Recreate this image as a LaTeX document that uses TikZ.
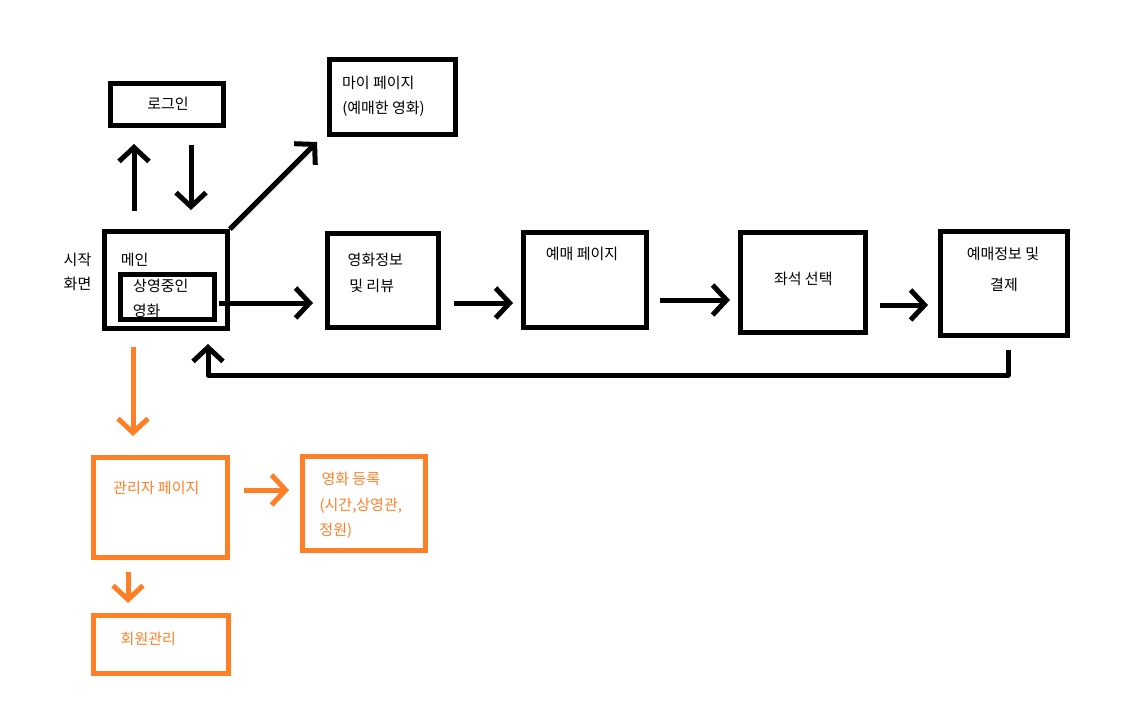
\documentclass[tikz,border=0pt]{standalone}
\usepackage{fontspec}
\setmainfont{Noto Sans CJK KR}
\usetikzlibrary{arrows.meta}
\definecolor{paintorange}{RGB}{255,127,39}
\tikzset{
  box/.style={draw, line width=5pt, inner sep=0pt, minimum width=#1},
  box/.default=100pt,
  obox/.style={box=#1, draw=paintorange},
  lbl/.style={inner sep=0pt, font=\fontsize{15}{18}\selectfont},
  olbl/.style={lbl, text=paintorange},
  arr/.style={line width=5pt, -{Straight Barb[length=14pt,width=30pt,line join=miter]}},
  oarr/.style={arr, draw=paintorange},
}
\begin{document}
\begin{tikzpicture}[x=1pt,y=-1pt]
\useasboundingbox (0,0) rectangle (1126,715);

% boxes
\node[box=113pt, minimum height=42pt] (login) at (167,104.5) {};
\node[box=123pt, minimum height=97pt] (main) at (166,280) {};
\node[box=94pt, minimum height=45pt] (inner) at (167.5,297) {};
\node[box=126pt, minimum height=75pt] (mypage) at (392.5,97) {};
\node[box=111pt, minimum height=94pt] (info) at (383,280.5) {};
\node[box=123pt, minimum height=95pt] (reserve) at (585,280) {};
\node[box=125pt, minimum height=100pt] (seat) at (803,282.5) {};
\node[box=127pt, minimum height=104pt] (pay) at (1004,283.5) {};
\node[obox=134pt, minimum height=100pt] (admin) at (160.5,507.5) {};
\node[obox=123pt, minimum height=94pt] (register) at (364,503.5) {};
\node[obox=135pt, minimum height=58pt] (member) at (161,644.5) {};

% labels
\node[lbl] (t1) at (77.5,259.5) {시작};
\node[lbl] (t2) at (77.5,284) {화면};
\node[lbl] (t3) at (134.7,260) {메인};
\node[lbl] (t4) at (160.8,285.5) {상영중인};
\node[lbl] (t5) at (146.7,310.5) {영화};
\node[lbl] (t6) at (168,104) {로그인};
\node[lbl] (t7) at (378.3,82.5) {마이 페이지};
\node[lbl] (t8) at (383.5,109) {(예매한 영화)};
\node[lbl] (t9) at (375.3,259.5) {영화정보};
\node[lbl] (t10) at (371.7,285.5) {및 리뷰};
\node[lbl] (t11) at (582,253.7) {예매 페이지};
\node[lbl] (t12) at (803.3,279) {좌석 선택};
\node[lbl] (t13) at (1003,254) {예매정보 및};
\node[lbl] (t14) at (1004,284.7) {결제};
\node[olbl] (t15) at (156.3,487.5) {관리자 페이지};
\node[olbl] (t16) at (350.8,478.8) {영화 등록};
\node[olbl] (t17) at (360.8,506) {(시간,상영관,};
\node[olbl] (t18) at (335.8,531) {정원)};
\node[olbl] (t19) at (148.3,639.2) {회원관리};

% connectors
\coordinate (mpend) at (317,142);
\draw[arr, shorten <=18pt, shorten >=16pt] (main.north -| 134,0) -- (login.south -| 134,0);
\draw[arr, shorten <=17pt, shorten >=19pt] (login.south -| 191,0) -- (main.north -| 191,0);
\draw[arr] (main.north east) -- (mpend);
\draw[arr, shorten <=2pt, shorten >=12pt] (inner.east |- 0,303) -- (info.west |- 0,303);
\draw[arr, shorten <=13pt, shorten >=8pt] (info.east |- 0,303) -- (reserve.west |- 0,303);
\draw[arr, shorten <=11pt, shorten >=8pt] (reserve.east |- 0,300) -- (seat.west |- 0,300);
\draw[arr, shorten <=12pt, shorten >=10pt] (seat.east |- 0,305) -- (pay.west |- 0,305);
\draw[arr, line join=round, shorten <=12pt, shorten >=13pt] (pay.south -| 1008,0) -- (1008,375) -- (208,375) -- (main.south -| 208,0);
\draw[oarr, shorten <=16pt, shorten >=19pt] (main.south -| 133,0) -- (admin.north -| 133,0);
\draw[oarr, shorten <=14pt, shorten >=11pt] (admin.east |- 0,490) -- (register.west |- 0,490);
\draw[oarr, shorten <=12pt, shorten >=10pt] (admin.south -| 128,0) -- (member.north -| 128,0);
\end{tikzpicture}
\end{document}
